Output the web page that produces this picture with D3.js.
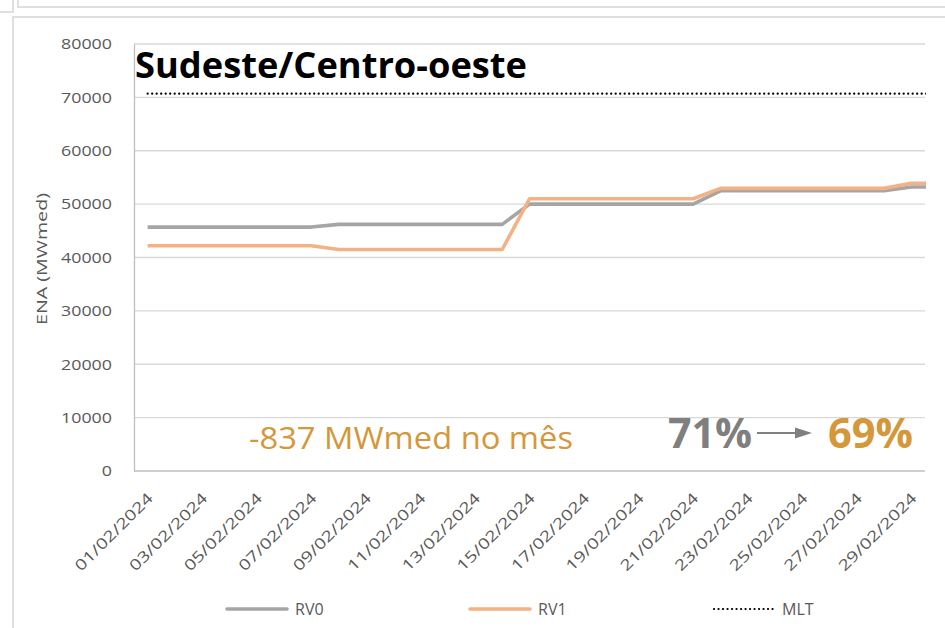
<!DOCTYPE html>
<html><head><meta charset="utf-8">
<script src="https://cdn.jsdelivr.net/npm/d3@7"></script>
<style>
body{margin:0;background:#fff;}
svg{display:block;font-family:'Open Sans',sans-serif;}
</style>
</head><body>
<svg id="c" width="945" height="628"></svg>
<script>
// ---------- data ----------
const dates = ["01/02/2024","02/02/2024","03/02/2024","04/02/2024","05/02/2024","06/02/2024","07/02/2024",
  "08/02/2024","09/02/2024","10/02/2024","11/02/2024","12/02/2024","13/02/2024","14/02/2024",
  "15/02/2024","16/02/2024","17/02/2024","18/02/2024","19/02/2024","20/02/2024","21/02/2024",
  "22/02/2024","23/02/2024","24/02/2024","25/02/2024","26/02/2024","27/02/2024","28/02/2024",
  "29/02/2024","01/03/2024"];
const rv0 = [45700,45700,45700,45700,45700,45700,45700,
  46200,46200,46200,46200,46200,46200,46200,
  50000,50000,50000,50000,50000,50000,50000,
  52500,52500,52500,52500,52500,52500,52500,
  53200,53200];
const rv1 = [42200,42200,42200,42200,42200,42200,42200,
  41500,41500,41500,41500,41500,41500,41500,
  51000,51000,51000,51000,51000,51000,51000,
  52950,52950,52950,52950,52950,52950,52950,
  53900,53900];
const mlt = [70700,70700,70700,70700,70700,70700,70700,70700,70700,70700,
  70700,70700,70700,70700,70700,70700,70700,70700,70700,70700,
  70700,70700,70700,70700,70700,70700,70700,70700,70700,70700];
const xTickLabels = ["01/02/2024","03/02/2024","05/02/2024","07/02/2024","09/02/2024","11/02/2024",
  "13/02/2024","15/02/2024","17/02/2024","19/02/2024","21/02/2024","23/02/2024","25/02/2024",
  "27/02/2024","29/02/2024"];
const yTicks = [0,10000,20000,30000,40000,50000,60000,70000,80000];
const seriesNames = ["RV0","RV1","MLT"];
const chartTitle = "Sudeste/Centro-oeste";
const yTitle = "ENA (MWmed)";
const noteText = "-837 MWmed no mês";
const pctFrom = "71%";
const pctTo = "69%";

// ---------- layout ----------
const svg = d3.select("#c");
const L = 134, R = 925, T = 44, B = 471;
const nShown = 29;
const step = (R - L) / nShown;
const x = d3.scalePoint().domain(dates).range([L + step/2, L + step/2 + (dates.length-1)*step]);
const y = d3.scaleLinear().domain([0, 80000]).range([B, T]);

const C = {rv0:"#a5a5a5", rv1:"#f4b183", grid:"#d9d9d9", axis:"#bfbfbf", text:"#595959", gold:"#d4973a", pgray:"#7f7f7f"};

// frame artifacts
const frame = svg.append("g").attr("stroke","#d6d6d6").attr("stroke-width",1.5).attr("fill","none");
frame.append("path").attr("d","M18,0 V7 H945");
frame.append("path").attr("d","M0,12 H13 V0");
frame.append("path").attr("d","M945,17 H13 V628");

// gridlines
svg.append("g").selectAll("line").data(yTicks.filter(d=>d>0)).join("line")
  .attr("x1",L).attr("x2",R).attr("y1",d=>y(d)).attr("y2",d=>y(d))
  .attr("stroke",C.grid).attr("stroke-width",1.3);

// y axis
const yAxis = d3.axisLeft(y).tickValues(yTicks).tickSize(0).tickPadding(22).tickFormat(d3.format("d"));
const gy = svg.append("g").attr("transform",`translate(${L},0)`).call(yAxis);
gy.select(".domain").attr("stroke",C.axis).attr("stroke-width",1.3);
gy.selectAll("text").attr("fill",C.text).attr("font-size",15).attr("font-family","'Open Sans',sans-serif")
  .attr("textLength",d=>String(d).length*10.2).attr("lengthAdjust","spacingAndGlyphs");

// x axis line
svg.append("line").attr("x1",L).attr("x2",R).attr("y1",B).attr("y2",B).attr("stroke",C.axis).attr("stroke-width",1.5);

// x labels
svg.append("g").selectAll("text").data(xTickLabels).join("text")
  .attr("transform",d=>`translate(${x(d)+2},495) rotate(-45)`)
  .attr("text-anchor","end").attr("dominant-baseline","central")
  .attr("fill",C.text).attr("font-size",15)
  .attr("textLength",103).attr("lengthAdjust","spacingAndGlyphs")
  .text(d=>d);

// y title
svg.append("text").attr("transform","translate(41,259) rotate(-90)")
  .attr("text-anchor","middle").attr("dominant-baseline","central")
  .attr("fill",C.text).attr("font-size",15)
  .attr("textLength",132).attr("lengthAdjust","spacingAndGlyphs")
  .text(yTitle);

// clip
svg.append("defs").append("clipPath").attr("id","pc").append("rect")
  .attr("x",L).attr("y",0).attr("width",R-L+1).attr("height",B);

const line = d3.line().x((d,i)=>x(dates[i])).y(d=>y(d));
const gl = svg.append("g").attr("clip-path","url(#pc)");
gl.append("path").datum(mlt).attr("d",line).attr("fill","none").attr("stroke","#000")
  .attr("stroke-width",2.2).attr("stroke-dasharray","0.1 4.4").attr("stroke-linecap","round");
gl.append("path").datum(rv0).attr("d",line).attr("fill","none").attr("stroke",C.rv0)
  .attr("stroke-width",3.6).attr("stroke-linejoin","round");
gl.append("path").datum(rv1).attr("d",line).attr("fill","none").attr("stroke",C.rv1)
  .attr("stroke-width",3.6).attr("stroke-linejoin","round");

// chart title
svg.append("text").attr("x",135).attr("y",78).attr("font-weight",700).attr("font-size",35)
  .attr("fill","#000").attr("textLength",392).attr("lengthAdjust","spacingAndGlyphs").text(chartTitle);

// annotations
svg.append("text").attr("x",249).attr("y",449).attr("font-size",31).attr("fill",C.gold)
  .attr("textLength",324).attr("lengthAdjust","spacingAndGlyphs").text(noteText);
svg.append("text").attr("x",668).attr("y",448).attr("font-size",42).attr("font-weight",700).attr("fill",C.pgray)
  .attr("textLength",84).attr("lengthAdjust","spacingAndGlyphs").text(pctFrom);
svg.append("text").attr("x",828).attr("y",448).attr("font-size",42).attr("font-weight",700).attr("fill",C.gold)
  .attr("textLength",85).attr("lengthAdjust","spacingAndGlyphs").text(pctTo);
svg.append("line").attr("x1",757).attr("x2",798).attr("y1",433).attr("y2",433).attr("stroke","#808080").attr("stroke-width",1.8);
svg.append("path").attr("d","M812,433 L795,427.5 L795,438.5 Z").attr("fill","#808080");

// legend
const lg = [
  {name:seriesNames[0], x:227, color:C.rv0, dash:null, w:3.6},
  {name:seriesNames[1], x:470, color:C.rv1, dash:null, w:3.6},
  {name:seriesNames[2], x:714, color:"#000", dash:"0.1 4.4", w:2.2}
];
const ly = 609;
const lgG = svg.append("g").selectAll("g").data(lg).join("g");
lgG.append("line").attr("x1",d=>d.x).attr("x2",d=>d.x+60).attr("y1",ly).attr("y2",ly)
  .attr("stroke",d=>d.color).attr("stroke-width",d=>d.w)
  .attr("stroke-dasharray",d=>d.dash).attr("stroke-linecap","round");
lgG.append("text").attr("x",d=>d.x+68).attr("y",ly).attr("dominant-baseline","central")
  .attr("fill",C.text).attr("font-size",16).text(d=>d.name);
</script>
</body></html>
